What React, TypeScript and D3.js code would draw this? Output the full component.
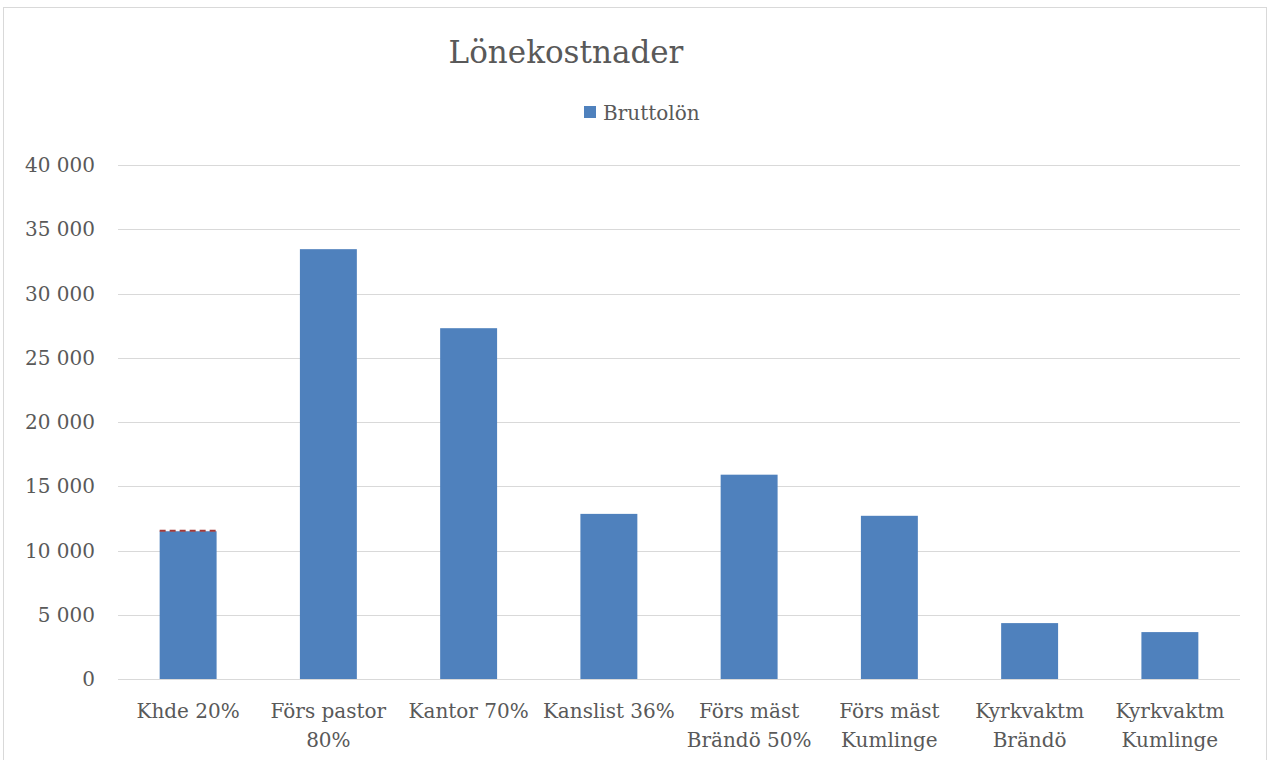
import React, { useEffect, useRef } from 'react';
import * as d3 from 'd3';

const categories = [
  ['Khde 20%'],
  ['Förs pastor', '80%'],
  ['Kantor 70%'],
  ['Kanslist 36%'],
  ['Förs mäst', 'Brändö 50%'],
  ['Förs mäst', 'Kumlinge'],
  ['Kyrkvaktm', 'Brändö'],
  ['Kyrkvaktm', 'Kumlinge'],
];
const bruttolon = [11500, 33450, 27300, 12850, 15900, 12700, 4350, 3650];
const yTicks = [0, 5000, 10000, 15000, 20000, 25000, 30000, 35000, 40000];

const FONT = '"DejaVu Serif", "Liberation Serif", serif';
const TEXT = '#595959';
const BLUE = '#4f81bd';

const App = () => {
  const ref = useRef<SVGSVGElement>(null);

  useEffect(() => {
    const svg = d3.select(ref.current);
    svg.selectAll('*').remove();

    const width = 1270;
    const height = 760;
    const left = 118;
    const right = 1240;
    const top = 165;
    const bottom = 679;

    // chart frame
    svg.append('rect')
      .attr('x', 3.5).attr('y', 7.5)
      .attr('width', 1263).attr('height', 800)
      .attr('fill', 'white')
      .attr('stroke', '#d9d9d9');

    const x = d3.scaleBand<number>()
      .domain(d3.range(categories.length))
      .range([left, right])
      .paddingInner(0.594)
      .paddingOuter(0.297);

    const y = d3.scaleLinear().domain([0, 40000]).range([bottom, top]);

    const fmt = (v: number) => d3.format(',')(v).replace(/,/g, ' ');

    // gridlines
    svg.append('g')
      .selectAll('line')
      .data(yTicks)
      .enter()
      .append('line')
      .attr('x1', left).attr('x2', right)
      .attr('y1', d => Math.round(y(d)) + 0.5)
      .attr('y2', d => Math.round(y(d)) + 0.5)
      .attr('stroke', '#d9d9d9')
      .attr('stroke-width', 1);

    // y tick labels
    svg.append('g')
      .selectAll('text')
      .data(yTicks)
      .enter()
      .append('text')
      .attr('x', 95)
      .attr('y', d => y(d) + 7)
      .attr('text-anchor', 'end')
      .attr('font-family', FONT)
      .attr('font-size', 20)
      .attr('fill', TEXT)
      .text(d => fmt(d));

    // bars
    svg.append('g')
      .selectAll('rect')
      .data(bruttolon)
      .enter()
      .append('rect')
      .attr('x', (d, i) => x(i)!)
      .attr('y', d => y(d))
      .attr('width', x.bandwidth())
      .attr('height', d => bottom - y(d))
      .attr('fill', BLUE);

    // small dashed marker on top of first bar
    svg.append('line')
      .attr('x1', x(0)!).attr('x2', x(0)! + x.bandwidth())
      .attr('y1', y(bruttolon[0]) - 0.5).attr('y2', y(bruttolon[0]) - 0.5)
      .attr('stroke', '#a33a3a')
      .attr('stroke-width', 2)
      .attr('stroke-dasharray', '6 4');

    // category labels
    const lab = svg.append('g')
      .selectAll('text')
      .data(categories)
      .enter()
      .append('text')
      .attr('x', (d, i) => x(i)! + x.bandwidth() / 2)
      .attr('y', 718)
      .attr('text-anchor', 'middle')
      .attr('font-family', FONT)
      .attr('font-size', 20)
      .attr('fill', TEXT);
    lab.selectAll('tspan')
      .data(d => d)
      .enter()
      .append('tspan')
      .attr('x', function () { return (this.parentNode as SVGTextElement).getAttribute('x'); })
      .attr('dy', (d, i) => (i === 0 ? 0 : 29))
      .text(d => d);

    // title
    svg.append('text')
      .attr('x', 566)
      .attr('y', 63)
      .attr('text-anchor', 'middle')
      .attr('font-family', FONT)
      .attr('font-size', 31)
      .attr('fill', TEXT)
      .text('Lönekostnader');

    // legend
    svg.append('rect')
      .attr('x', 584).attr('y', 106)
      .attr('width', 12).attr('height', 12)
      .attr('fill', BLUE);
    svg.append('text')
      .attr('x', 603)
      .attr('y', 120)
      .attr('font-family', FONT)
      .attr('font-size', 20)
      .attr('fill', TEXT)
      .text('Bruttolön');

    svg.attr('width', width).attr('height', height);
  }, []);

  return (
    <svg ref={ref} width={1270} height={760}
      style={{ position: 'absolute', left: 0, top: 0, background: 'white' }} />
  );
};

export default App;
